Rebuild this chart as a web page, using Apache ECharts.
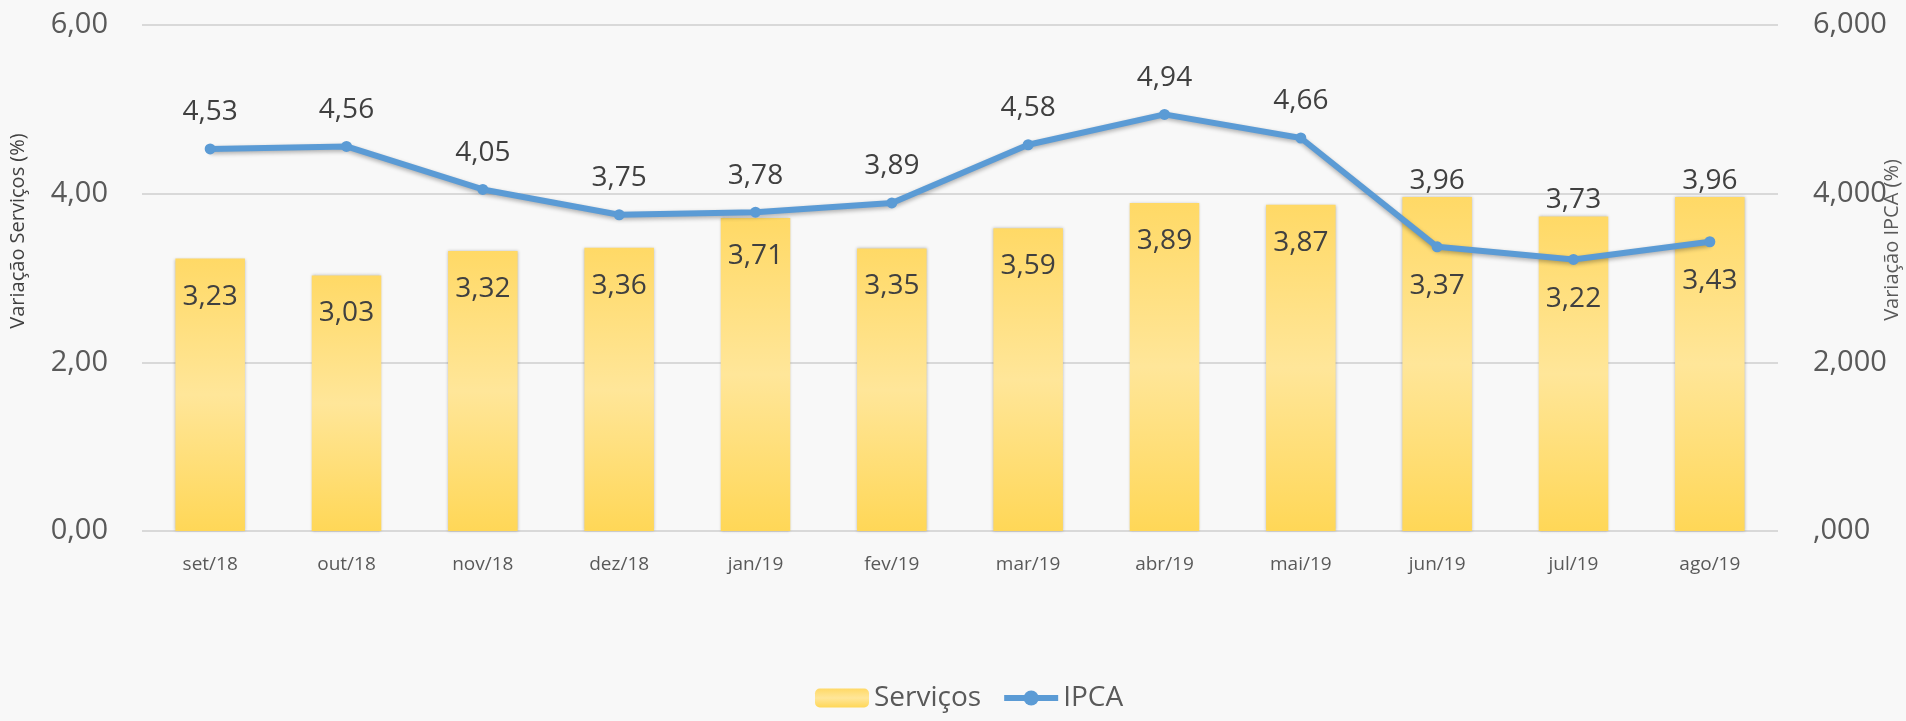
<!DOCTYPE html>
<html>
<head>
<meta charset="utf-8">
<script src="https://cdn.jsdelivr.net/npm/echarts@6/dist/echarts.min.js"></script>
<style>
  html, body { margin: 0; padding: 0; background: #f8f8f8; }
  #chart { width: 1906px; height: 721px; }
</style>
</head>
<body>
<div id="chart"></div>
<script>
// dados
const categories = ['set/18', 'out/18', 'nov/18', 'dez/18', 'jan/19', 'fev/19', 'mar/19', 'abr/19', 'mai/19', 'jun/19', 'jul/19', 'ago/19']
const servicos = [3.23, 3.03, 3.32, 3.36, 3.71, 3.35, 3.59, 3.89, 3.87, 3.96, 3.73, 3.96]
const ipca = [4.53, 4.56, 4.05, 3.75, 3.78, 3.89, 4.58, 4.94, 4.66, 3.37, 3.22, 3.43]
const leftTicks = ['0,00', '2,00', '4,00', '6,00']
const rightTicks = [',000', '2,000', '4,000', '6,000']

const fmt = v => v.toFixed(2).replace('.', ',')
const FONT = '"Open Sans", "Noto Sans", sans-serif'

const chart = echarts.init(document.getElementById('chart'))

// últimos três meses: rótulo da barra acima e da linha abaixo
const barData = servicos.map((v, i) => i >= 9
  ? { value: v, label: { position: 'top', distance: 2 } }
  : v)
const lineData = ipca.map((v, i) => i >= 9
  ? { value: v, label: { position: 'bottom', distance: 20 } }
  : v)

const option = {
  backgroundColor: '#f8f8f8',
  textStyle: { fontFamily: FONT },
  grid: {
    left: 142,
    right: 128,
    top: 25,
    bottom: 190
  },
  legend: {
    bottom: 4,
    left: 810,
    itemWidth: 54,
    itemHeight: 19,
    itemGap: 20,
    textStyle: { fontSize: 28, color: '#595959', fontFamily: FONT },
    data: [
      { name: 'Serviços' },
      { name: 'IPCA', lineStyle: { width: 6, color: '#5b9bd5' }, itemStyle: { color: '#5b9bd5' } }
    ]
  },
  graphic: [
    {
      type: 'text',
      x: 8,
      y: 231,
      rotation: Math.PI / 2,
      style: {
        text: 'Variação Serviços (%)',
        font: '20px ' + FONT,
        fill: '#404040',
        align: 'center',
        verticalAlign: 'top'
      }
    },
    {
      type: 'text',
      x: 1882,
      y: 240,
      rotation: Math.PI / 2,
      style: {
        text: 'Variação IPCA (%)',
        font: '20px ' + FONT,
        fill: '#595959',
        align: 'center',
        verticalAlign: 'top'
      }
    }
  ],
  xAxis: [{
    type: 'category',
    data: categories,
    axisLine: { show: false },
    axisTick: { show: false },
    axisLabel: { fontSize: 19, color: '#595959', margin: 24 }
  }],
  yAxis: [{
    type: 'value',
    min: 0,
    max: 6,
    interval: 2,
    axisLine: { show: false },
    axisTick: { show: false },
    splitLine: { lineStyle: { color: '#d9d9d9', width: 2 } },
    axisLabel: {
      fontSize: 29,
      color: '#595959',
      margin: 34,
      formatter: v => leftTicks[Math.round(v / 2)]
    }
  }, {
    type: 'value',
    min: 0,
    max: 6,
    interval: 2,
    axisLine: { show: false },
    axisTick: { show: false },
    splitLine: { show: false },
    axisLabel: {
      fontSize: 29,
      color: '#595959',
      margin: 35,
      formatter: v => rightTicks[Math.round(v / 2)]
    }
  }],
  series: [{
    name: 'Serviços',
    type: 'bar',
    barWidth: '51%',
    data: barData,
    itemStyle: {
      color: new echarts.graphic.LinearGradient(0, 0, 0, 1, [
        { offset: 0, color: '#ffd966' },
        { offset: 0.5, color: '#ffe699' },
        { offset: 1, color: '#ffd757' }
      ]),
      shadowColor: 'rgba(0,0,0,0.25)',
      shadowBlur: 3
    },
    label: {
      show: true,
      position: 'insideTop',
      distance: 24,
      fontSize: 28,
      color: '#404040',
      formatter: p => fmt(p.value)
    },
    z: 2
  }, {
    name: 'IPCA',
    type: 'line',
    yAxisIndex: 1,
    data: lineData,
    symbol: 'circle',
    symbolSize: 11,
    itemStyle: { color: '#5b9bd5' },
    lineStyle: {
      color: '#5b9bd5',
      width: 6,
      shadowColor: 'rgba(0,0,0,0.3)',
      shadowBlur: 4,
      shadowOffsetY: 2
    },
    label: {
      show: true,
      position: 'top',
      distance: 17,
      fontSize: 28,
      color: '#404040',
      formatter: p => fmt(p.value)
    },
    z: 3
  }]
}

chart.setOption(option)
window.addEventListener('resize', () => chart.resize())
</script>
</body>
</html>
